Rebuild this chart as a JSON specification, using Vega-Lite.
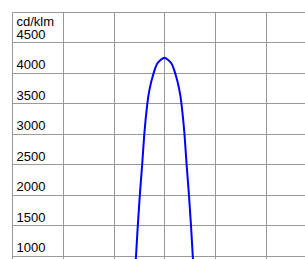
{
  "$schema": "https://vega.github.io/schema/vega-lite/v6.json",
  "autosize": "none",
  "padding": {"left": 12, "top": 12, "right": 0, "bottom": 0},
  "width": 293,
  "height": 247,
  "background": "white",
  "config": {"view": {"stroke": null}, "font": "Liberation Sans"},
  "data": {
    "values": [
      {"angle": -6.3, "cd": 0},
      {"angle": -5.95, "cd": 500},
      {"angle": -5.58, "cd": 1000},
      {"angle": -5.23, "cd": 1500},
      {"angle": -4.83, "cd": 2000},
      {"angle": -4.37, "cd": 2500},
      {"angle": -3.95, "cd": 3000},
      {"angle": -3.35, "cd": 3500},
      {"angle": -2.1, "cd": 4000},
      {"angle": -1.5, "cd": 4140},
      {"angle": -0.7, "cd": 4215},
      {"angle": 0, "cd": 4250},
      {"angle": 0.7, "cd": 4215},
      {"angle": 1.5, "cd": 4140},
      {"angle": 2.1, "cd": 4000},
      {"angle": 3.35, "cd": 3500},
      {"angle": 3.95, "cd": 3000},
      {"angle": 4.37, "cd": 2500},
      {"angle": 4.83, "cd": 2000},
      {"angle": 5.23, "cd": 1500},
      {"angle": 5.58, "cd": 1000},
      {"angle": 5.95, "cd": 500},
      {"angle": 6.3, "cd": 0}
    ]
  },
  "mark": {"type": "line", "color": "#0000ff", "strokeWidth": 2, "interpolate": "monotone", "clip": true},
  "encoding": {
    "x": {
      "field": "angle",
      "type": "quantitative",
      "scale": {"domain": [-30, 27.68], "nice": false, "zero": false},
      "axis": {
        "orient": "top",
        "values": [-30, -20, -10, 0, 10, 20],
        "labels": false,
        "ticks": false,
        "domain": false,
        "title": null,
        "grid": true,
        "gridColor": "#999999",
        "gridOpacity": 1,
        "gridWidth": 1
      }
    },
    "y": {
      "field": "cd",
      "type": "quantitative",
      "scale": {"domain": [943, 5000], "nice": false, "zero": false},
      "axis": {
        "values": [1000, 1500, 2000, 2500, 3000, 3500, 4000, 4500, 5000],
        "labelExpr": "datum.value == 5000 ? '' : datum.value",
        "ticks": false,
        "domain": false,
        "grid": true,
        "gridColor": "#999999",
        "gridOpacity": 1,
        "gridWidth": 1,
        "labelAlign": "left",
        "labelBaseline": "alphabetic",
        "labelPadding": -4,
        "labelOffset": -4,
        "labelFontSize": 13,
        "labelColor": "#000000",
        "labelFont": "Liberation Sans",
        "title": "cd/klm",
        "titleAngle": 0,
        "titleX": 4,
        "titleY": 13,
        "titleAlign": "left",
        "titleBaseline": "alphabetic",
        "titleFontSize": 13,
        "titleFontWeight": "normal",
        "titleColor": "#000000",
        "titleFont": "Liberation Sans"
      }
    }
  }
}
